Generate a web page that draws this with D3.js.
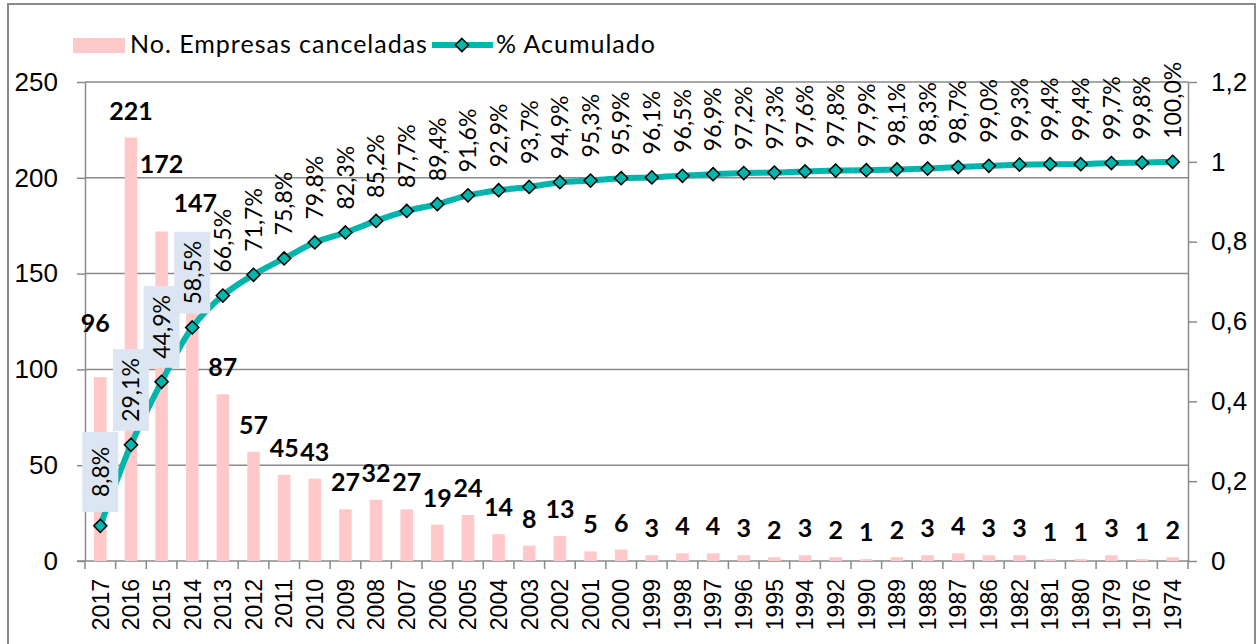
<!DOCTYPE html>
<html>
<head>
<meta charset="utf-8">
<script src="https://cdn.jsdelivr.net/npm/d3@7"></script>
<style>
  body { margin: 0; background: #fff; }
  svg { display: block; font-family: Lato, "Open Sans", sans-serif; }
</style>
</head>
<body>
<svg id="chart" width="1257" height="644"></svg>
<script>
// years of constitution, in the order of the chart
var years = ["2017","2016","2015","2014","2013","2012","2011","2010","2009","2008","2007","2006",
  "2005","2004","2003","2002","2001","2000","1999","1998","1997","1996","1995","1994",
  "1992","1990","1989","1988","1987","1986","1982","1981","1980","1979","1976","1974"];

// No. Empresas canceladas
var canceladas = [96,221,172,147,87,57,45,43,27,32,27,19,24,14,8,13,5,6,3,4,4,3,2,3,
  2,1,2,3,4,3,3,1,1,3,1,2];

// % Acumulado
var acumulado = [8.8,29.1,44.9,58.5,66.5,71.7,75.8,79.8,82.3,85.2,87.7,89.4,91.6,92.9,93.7,
  94.9,95.3,95.9,96.1,96.5,96.9,97.2,97.3,97.6,97.8,97.9,98.1,98.3,98.7,99.0,99.3,99.4,
  99.4,99.7,99.8,100.0];

var leftTicks = [0, 50, 100, 150, 200, 250];
var rightTicks = [0, 0.2, 0.4, 0.6, 0.8, 1, 1.2];

var barColor = "#ffc9c9";
var lineColor = "#00b5ac";
var gridColor = "#8a8a8a";

var plot = { left: 85, right: 1188, top: 82, bottom: 561 };

// labels that were dragged by hand in the original
var nudge = { "2017": [-5, -27], "2015": [0, -40], "2014": [3, -49] };

var svg = d3.select("#chart");

// outer frame
svg.append("rect")
  .attr("x", 8).attr("y", 4)
  .attr("width", 1247).attr("height", 660)
  .attr("fill", "none")
  .attr("stroke", gridColor)
  .attr("stroke-width", 2);

var x = d3.scaleBand()
  .domain(years)
  .range([plot.left, plot.right])
  .paddingInner(0.59)
  .paddingOuter(0.295);

var yL = d3.scaleLinear().domain([0, 250]).range([plot.bottom, plot.top]);
var yR = d3.scaleLinear().domain([0, 1.2]).range([plot.bottom, plot.top]);

var cx = function(d) { return x(d) + x.bandwidth() / 2; };
var comma = function(v, f) { return d3.format(f)(v).replace(".", ","); };

// gridlines
svg.append("g")
  .selectAll("line")
  .data(leftTicks.slice(1))
  .enter()
  .append("line")
  .attr("x1", plot.left).attr("x2", plot.right)
  .attr("y1", function(d) { return yL(d); })
  .attr("y2", function(d) { return yL(d); })
  .attr("stroke", gridColor)
  .attr("stroke-width", 1.5);

// left axis
var leftAxis = svg.append("g")
  .attr("transform", `translate(${plot.left},0)`)
  .call(d3.axisLeft(yL).tickValues(leftTicks).tickSize(8).tickPadding(19).tickSizeOuter(0));

// right axis
var rightAxis = svg.append("g")
  .attr("transform", `translate(${plot.right},0)`)
  .call(d3.axisRight(yR).tickValues(rightTicks).tickSize(9).tickPadding(14).tickSizeOuter(0)
    .tickFormat(function(d) { return d === 0 || d === 1 ? String(d) : comma(d, ".1f"); }));

// bottom axis (labels only, ticks go on the category boundaries)
var bottomAxis = svg.append("g")
  .attr("transform", `translate(0,${plot.bottom})`)
  .call(d3.axisBottom(x).tickSize(0).tickSizeOuter(0));

bottomAxis.selectAll("text")
  .attr("transform", "rotate(-90)")
  .attr("x", -18).attr("y", 0).attr("dy", "0.36em")
  .attr("text-anchor", "end")
  .style("font-size", "23px");

var half = x.step() * x.paddingInner() / 2;
bottomAxis.selectAll(".boundary")
  .data(years.concat(["end"]))
  .enter()
  .append("line")
  .attr("class", "boundary")
  .attr("x1", function(d) { return d === "end" ? plot.right : x(d) - half; })
  .attr("x2", function(d) { return d === "end" ? plot.right : x(d) - half; })
  .attr("y1", 0).attr("y2", 8)
  .attr("stroke", gridColor)
  .attr("stroke-width", 1.5);

[leftAxis, rightAxis, bottomAxis].forEach(function(a) {
  a.selectAll("path.domain").attr("stroke", gridColor).attr("stroke-width", 1.5);
  a.selectAll(".tick line").attr("stroke", gridColor).attr("stroke-width", 1.5);
});
leftAxis.selectAll("text").style("font-size", "26px").attr("fill", "#000");
rightAxis.selectAll("text").style("font-size", "26px").attr("fill", "#000");
bottomAxis.selectAll("text").attr("fill", "#000");
// the left axis line also runs past the bottom ticks
bottomAxis.select("path.domain").attr("d", `M${plot.left - 8},0H${plot.right}`);

// bars
svg.append("g")
  .selectAll("rect")
  .data(years)
  .enter()
  .append("rect")
  .attr("x", function(d) { return x(d); })
  .attr("width", x.bandwidth())
  .attr("y", function(d, i) { return yL(canceladas[i]); })
  .attr("height", function(d, i) { return plot.bottom - yL(canceladas[i]); })
  .attr("fill", barColor);

// bar labels
svg.append("g")
  .selectAll("text")
  .data(years)
  .enter()
  .append("text")
  .attr("x", function(d) { return cx(d) + (nudge[d] ? nudge[d][0] : 0); })
  .attr("y", function(d, i) { return yL(canceladas[i]) - 18 + (nudge[d] ? nudge[d][1] : 0); })
  .attr("text-anchor", "middle")
  .style("font-size", "25px")
  .style("font-weight", "bold")
  .text(function(d, i) { return canceladas[i]; });

// cumulative line
var line = d3.line()
  .x(function(d) { return cx(d); })
  .y(function(d, i) { return yR(acumulado[i] / 100); })
  .curve(d3.curveCatmullRom.alpha(0.5));

svg.append("path")
  .datum(years)
  .attr("d", line)
  .attr("fill", "none")
  .attr("stroke", lineColor)
  .attr("stroke-width", 6);

var diamond = d3.symbol().type(d3.symbolDiamond2).size(110);

svg.append("g")
  .selectAll("path")
  .data(years)
  .enter()
  .append("path")
  .attr("d", diamond)
  .attr("transform", function(d, i) { return `translate(${cx(d)},${yR(acumulado[i] / 100)})`; })
  .attr("fill", lineColor)
  .attr("stroke", "#000")
  .attr("stroke-width", 1.5);

// percent labels (the first four have a filled box)
var pctLabels = svg.append("g")
  .selectAll("g")
  .data(years)
  .enter()
  .append("g")
  .attr("transform", function(d, i) {
    return `translate(${cx(d)},${yR(acumulado[i] / 100) - 23}) rotate(-90)`;
  });

pctLabels.append("text")
  .attr("dy", "0.36em")
  .style("font-size", "23px")
  .text(function(d, i) { return comma(acumulado[i], ".1f") + "%"; });

pctLabels.filter(function(d, i) { return i < 4; })
  .each(function(d, i) {
    var g = d3.select(this);
    var len = g.select("text").node().getComputedTextLength();
    var boxLen = Math.max(len + 18, 80);
    var pad = (boxLen - len) / 2;
    var my = yR(acumulado[i] / 100);
    g.attr("transform", `translate(${cx(d)},${my - 14 - pad}) rotate(-90)`);
    g.insert("rect", "text")
      .attr("x", -pad).attr("y", -18)
      .attr("width", boxLen).attr("height", 36)
      .attr("fill", "#dce6f2");
  });

// legend
var legend = svg.append("g")
  .style("font-size", "25px")
  .style("letter-spacing", "1px");
legend.append("rect")
  .attr("x", 73).attr("y", 38).attr("width", 52).attr("height", 15)
  .attr("fill", barColor);
var t1 = legend.append("text")
  .attr("x", 130).attr("y", 53)
  .text("No. Empresas canceladas");
var lx = 130 + t1.node().getComputedTextLength() + 4;
legend.append("line")
  .attr("x1", lx).attr("x2", lx + 61)
  .attr("y1", 45).attr("y2", 45)
  .attr("stroke", lineColor).attr("stroke-width", 6);
legend.append("path")
  .attr("d", diamond)
  .attr("transform", `translate(${lx + 30},45)`)
  .attr("fill", lineColor).attr("stroke", "#000").attr("stroke-width", 1.5);
legend.append("text")
  .attr("x", lx + 64).attr("y", 53)
  .text("% Acumulado");
</script>
</body>
</html>
